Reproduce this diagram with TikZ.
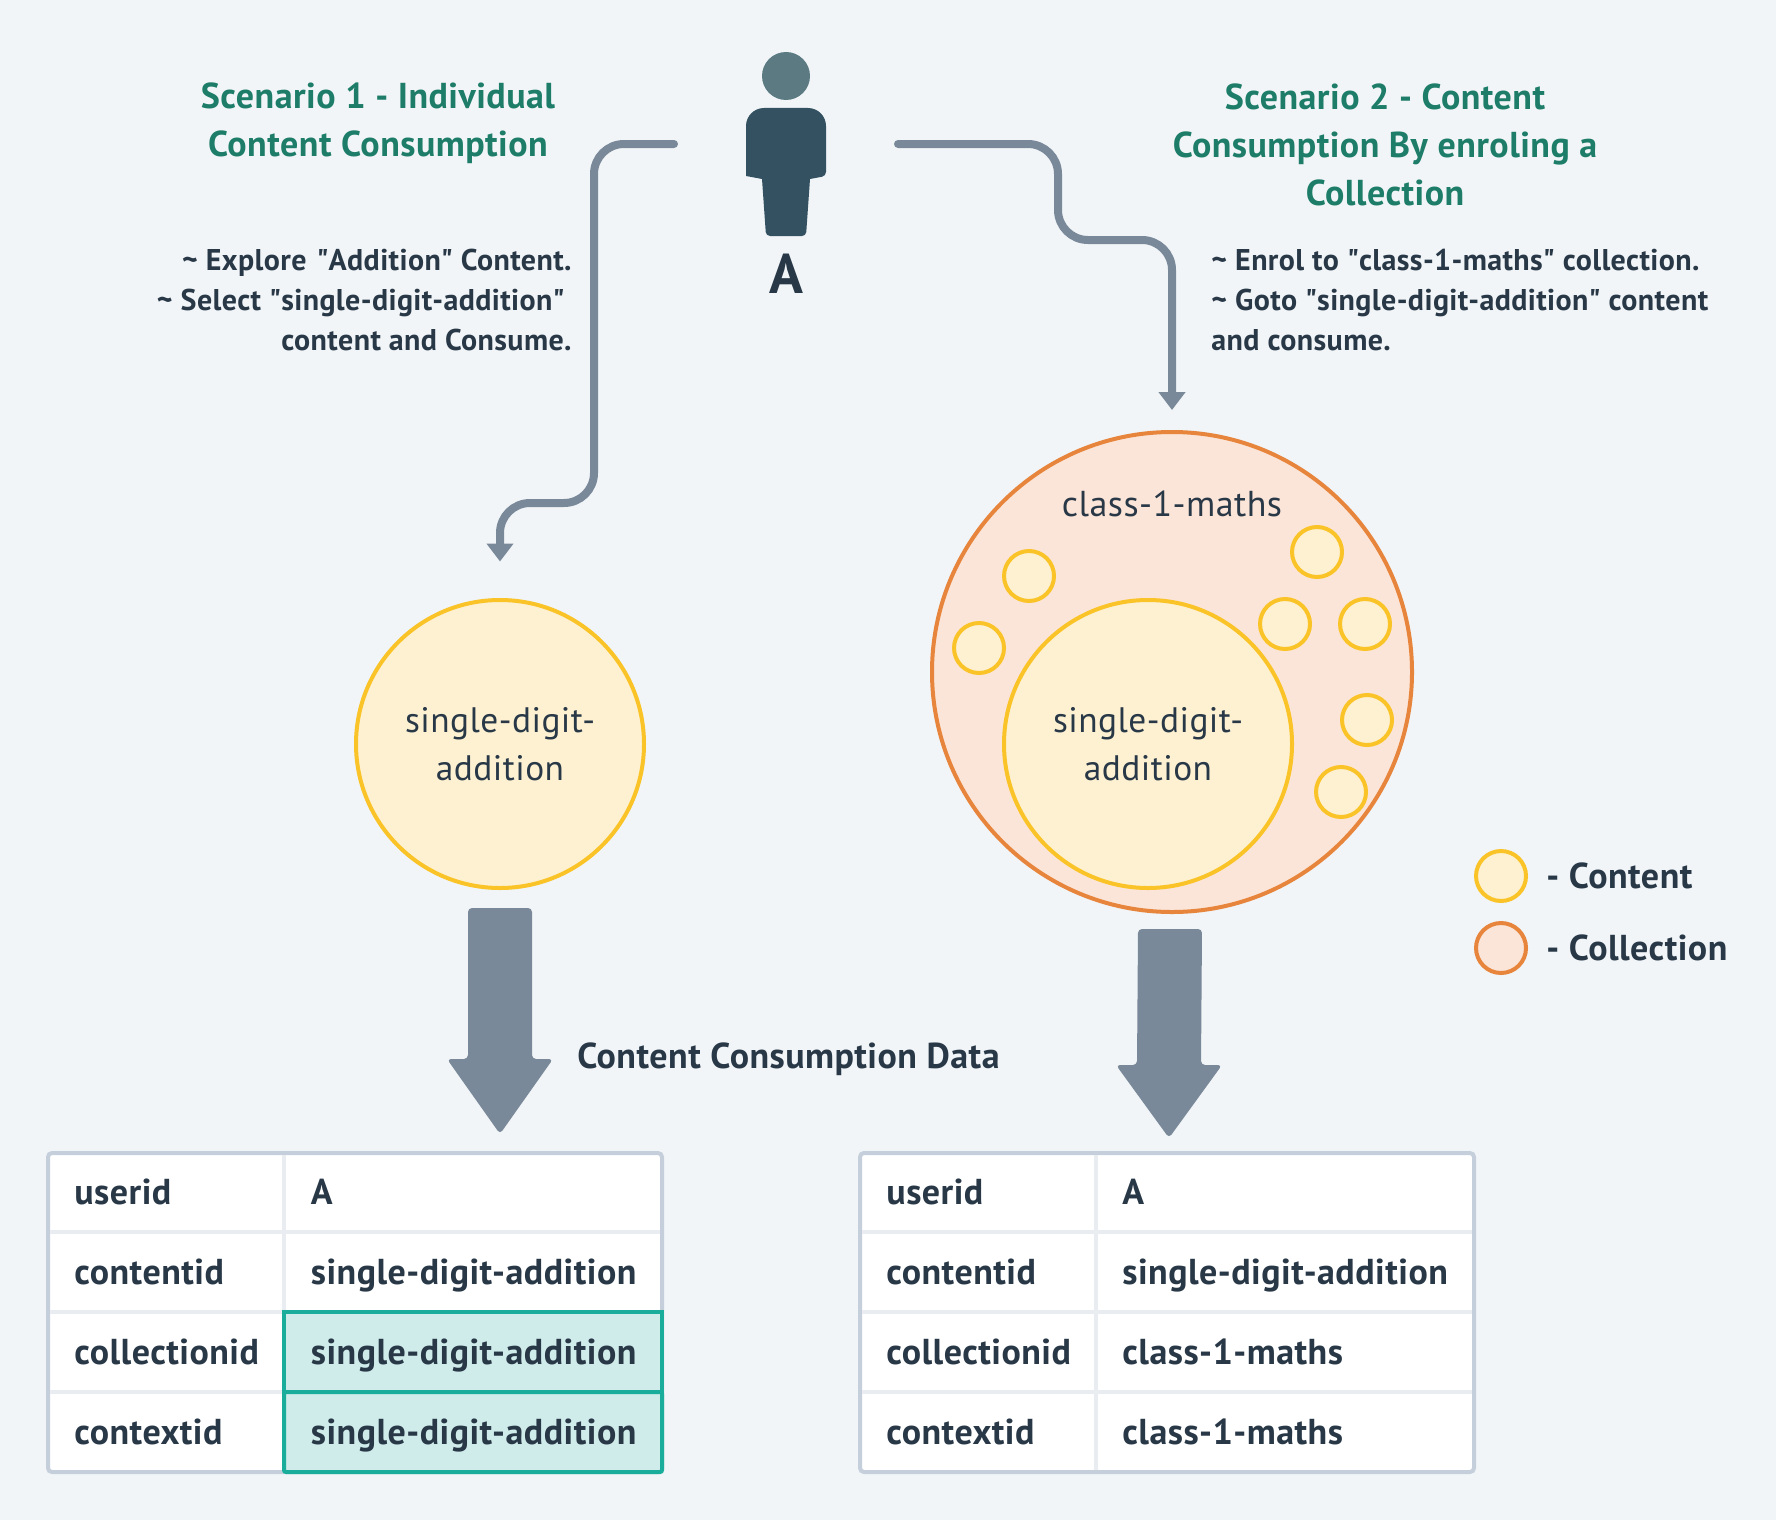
\documentclass[tikz,border=0pt]{standalone}
\usepackage{fontspec}
\setmainfont[LetterSpace=1.3]{PT Sans}
\usetikzlibrary{arrows.meta}
\definecolor{page-bg}{RGB}{241, 245, 248}
\definecolor{ink}{RGB}{41, 56, 71}
\definecolor{heading-green}{RGB}{29, 125, 104}
\definecolor{link-grey}{RGB}{122, 137, 153}
\definecolor{person-head}{RGB}{91, 122, 130}
\definecolor{person-body}{RGB}{52, 81, 97}
\definecolor{content-fill}{RGB}{253, 241, 210}
\definecolor{content-line}{RGB}{250, 195, 40}
\definecolor{collection-fill}{RGB}{251, 229, 216}
\definecolor{collection-line}{RGB}{232, 133, 60}
\definecolor{table-line}{RGB}{196, 207, 219}
\definecolor{cell-line}{RGB}{233, 237, 242}
\definecolor{mark-line}{RGB}{27, 173, 155}
\definecolor{mark-fill}{RGB}{207, 236, 235}
\tikzset{
  content/.style={circle, draw=content-line, fill=content-fill, line width=2pt, inner sep=0pt, minimum size=144pt, align=center, text=ink, font=\fontsize{17.7}{24}\selectfont},
  smallcontent/.style={circle, draw=content-line, fill=content-fill, line width=2pt, inner sep=0pt, minimum size=25pt},
  collection/.style={circle, draw=collection-line, fill=collection-fill, line width=2pt, inner sep=0pt, minimum size=240pt},
  smallcollection/.style={circle, draw=collection-line, fill=collection-fill, line width=2pt, inner sep=0pt, minimum size=25pt},
  heading/.style={text=heading-green, font=\fontsize{18}{24}\selectfont\bfseries, align=center, inner sep=0pt},
  note/.style={text=ink, font=\fontsize{15}{20}\selectfont\bfseries, inner sep=0pt},
  cell/.style={text=ink, font=\fontsize{18}{20}\selectfont\bfseries, anchor=base west, inner sep=0pt},
  link/.style={draw=link-grey, line width=4pt, line cap=round, rounded corners=15pt, -{Triangle[width=13pt,length=9pt]}},
  bigarrow/.style={fill=link-grey, rounded corners=2pt}
}
\begin{document}
\begin{tikzpicture}[x=0.5pt,y=-0.5pt]
\useasboundingbox[fill=page-bg] (0,0) rectangle (1776,1520);

% person
\fill[person-head] (786,76) circle (12pt);
\fill[person-body] (746,176) [rounded corners=9pt] -- (746,108) -- (826,108) [rounded corners=2pt] -- (826,176) [sharp corners] -- (810,179) [rounded corners=2pt] -- (806,236) -- (766,236) [sharp corners] -- (762,179) -- cycle;
\node[text=ink, font=\fontsize{28}{28}\selectfont\bfseries, inner sep=0pt, anchor=base] (usera) at (786,293) {A};
\coordinate (leftstart) at (674,144);
\coordinate (rightstart) at (898,144);

% headings
\node[heading] (scenarioone) at (378,123.5) {Scenario 1 - Individual\\Content Consumption};
\node[heading] (scenariotwo) at (1385,144.5) {Scenario 2 - Content\\Consumption By enroling a\\Collection};
\node[note, align=right, anchor=north east] (notesone) at (572,249) {\textasciitilde{} Explore \kern1pt\textquotedbl Addition\textquotedbl{} Content.\\\textasciitilde{} Select \textquotedbl single-digit-addition\textquotedbl\kern3.5pt\\content and Consume.};
\node[note, align=left, anchor=north west] (notestwo) at (1211,249) {\textasciitilde{} Enrol to \textquotedbl class-1-maths\textquotedbl{} collection.\\\textasciitilde{} Goto \textquotedbl single-digit-addition\textquotedbl{} content\\and consume.};

% scenario 1
\node[content] (contentone) at (500,744) {single-digit-\\addition};
\coordinate (leftend) at (500,561.5);
\draw[link] (leftstart) -- (594,144) -- (594,503) -- (500,503) -- (leftend);

% scenario 2
\node[collection] (maths) at (1172,672) {};
\node[text=ink, font=\fontsize{18}{24}\selectfont, inner sep=0pt, anchor=base] (mathslabel) at (1172,516) {class-1-maths};
\node[smallcontent] (sca) at (1029,576) {};
\node[smallcontent] (scb) at (979,648) {};
\node[smallcontent] (scc) at (1317,552) {};
\node[smallcontent] (scd) at (1285,624) {};
\node[smallcontent] (sce) at (1365,624) {};
\node[smallcontent] (scf) at (1367,720) {};
\node[smallcontent] (scg) at (1341,792) {};
\node[content] (contenttwo) at (1148,744) {single-digit-\\addition};
\coordinate (rightend) at (1172,410);
\draw[link] (rightstart) -- (1058,144) -- (1058,240) -- (1172,240) -- (rightend);

% legend
\node[smallcontent] (legendcontent) at (1501,876) {};
\node[smallcollection] (legendcollection) at (1501,948) {};
\node[cell] (legendone) at (1546,888) {- Content};
\node[cell] (legendtwo) at (1546,960) {- Collection};

% arrows down
\coordinate (bigstartone) at (500,908);
\coordinate (bigendone) at (500,1134);
\coordinate (bigstarttwo) at (1170,929);
\coordinate (bigendtwo) at (1169,1138);
\fill[bigarrow] (bigstartone) ++(-32,0) -- ++(64,0) -- ++(0,151) -- ++(21,0) -- (bigendone) -- ++(-53,-75) -- ++(21,0) -- cycle;
\fill[bigarrow] (bigstarttwo) ++(-32,0) -- ++(64,0) -- ++(-1,136) -- ++(21,0) -- (bigendtwo) -- ++(-53,-73) -- ++(21,0) -- cycle;
\node[cell] (datalabel) at (577,1068) {Content Consumption Data};

% table 1
\filldraw[fill=white, draw=table-line, line width=2pt, rounded corners=2pt] (48,1153) rectangle (662,1472);
\draw[cell-line, line width=2pt] (284,1155) -- (284,1312) (50,1232) -- (660,1232) (50,1312) -- (284,1312) (50,1392) -- (284,1392);
\filldraw[fill=mark-fill, draw=mark-line, line width=2pt] (284,1312) rectangle (662,1392);
\filldraw[fill=mark-fill, draw=mark-line, line width=2pt, rounded corners=1pt] (284,1392) rectangle (662,1472);
\node[cell] (uidone) at (74,1204) {userid};
\node[cell] (cidone) at (74,1284) {contentid};
\node[cell] (colone) at (74,1364) {collectionid};
\node[cell] (ctxone) at (74,1444) {contextid};
\node[cell] (uvalone) at (310.5,1204) {A};
\node[cell] (cvalone) at (310.5,1284) {single-digit-addition};
\node[cell] (colvalone) at (310.5,1364) {single-digit-addition};
\node[cell] (ctxvalone) at (310.5,1444) {single-digit-addition};

% table 2
\filldraw[fill=white, draw=table-line, line width=2pt, rounded corners=2pt] (860,1153) rectangle (1474,1472);
\draw[cell-line, line width=2pt] (1096,1155) -- (1096,1470) (862,1232) -- (1472,1232) (862,1312) -- (1472,1312) (862,1392) -- (1472,1392);
\node[cell] (uidtwo) at (886,1204) {userid};
\node[cell] (cidtwo) at (886,1284) {contentid};
\node[cell] (coltwo) at (886,1364) {collectionid};
\node[cell] (ctxtwo) at (886,1444) {contextid};
\node[cell] (uvaltwo) at (1122,1204) {A};
\node[cell] (cvaltwo) at (1122,1284) {single-digit-addition};
\node[cell] (colvaltwo) at (1122,1364) {class-1-maths};
\node[cell] (ctxvaltwo) at (1122,1444) {class-1-maths};
\end{tikzpicture}
\end{document}
